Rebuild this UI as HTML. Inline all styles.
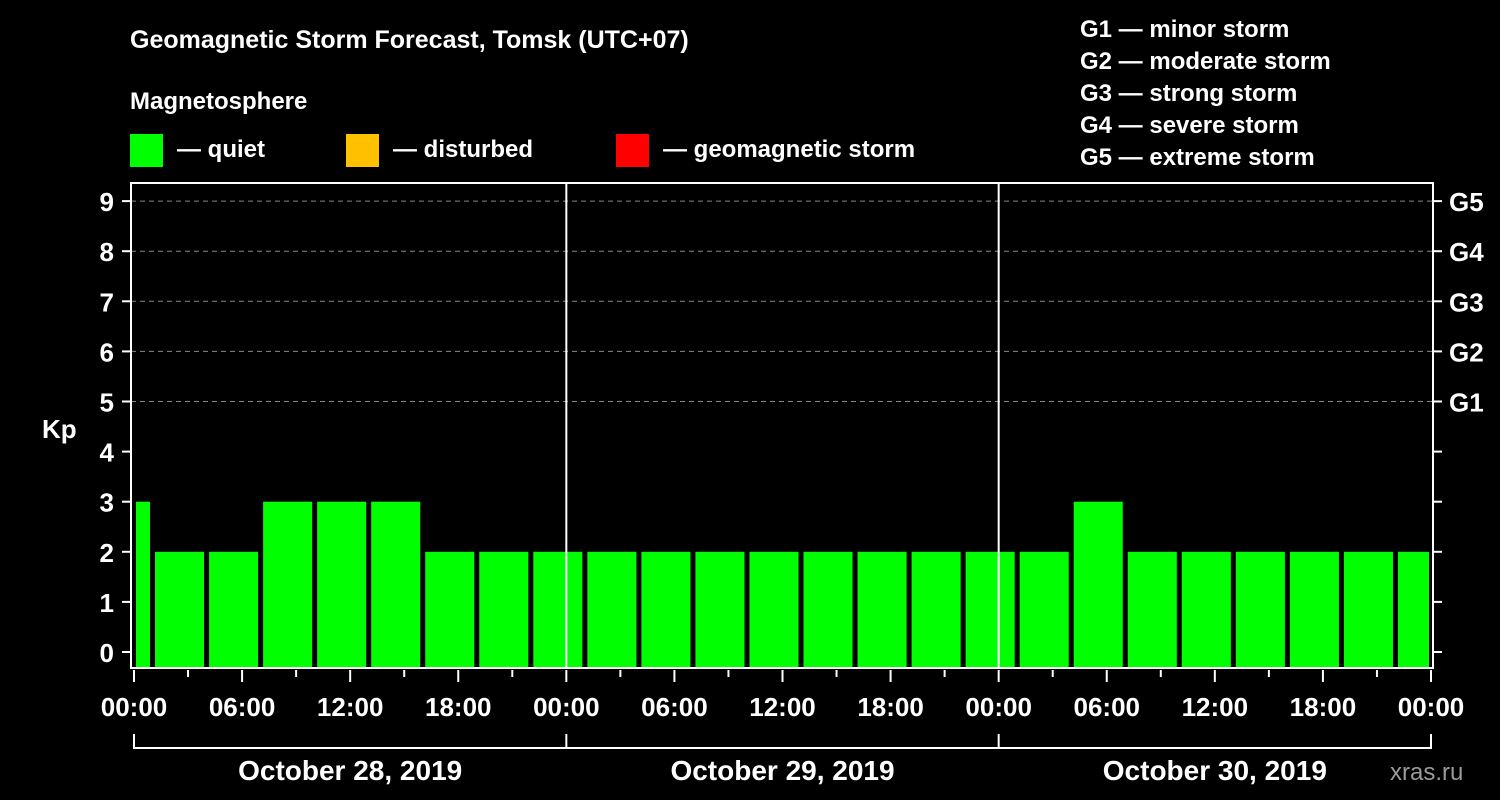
<!DOCTYPE html>
<html><head><meta charset="utf-8"><style>
html,body{margin:0;padding:0;background:#000;width:1500px;height:800px;overflow:hidden}
svg text{font-family:"Liberation Sans",Arial,sans-serif;font-weight:bold;fill:#fff}
</style></head><body>
<svg id="chart" width="1500" height="800" xmlns="http://www.w3.org/2000/svg">
<rect width="1500" height="800" fill="#000"/>
<text x="130" y="48" font-size="25">Geomagnetic Storm Forecast, Tomsk (UTC+07)</text>
<text x="130" y="109" font-size="24">Magnetosphere</text>
<g>
<rect x="130" y="134" width="33" height="33" fill="#00ff00"/>
<text x="177" y="157" font-size="24">— quiet</text>
<rect x="346" y="134" width="33" height="33" fill="#ffc000"/>
<text x="393" y="157" font-size="24">— disturbed</text>
<rect x="616" y="134" width="33" height="33" fill="#ff0000"/>
<text x="663" y="157" font-size="24">— geomagnetic storm</text>
</g>
<g font-size="24">
<text x="1080" y="37">G1 — minor storm</text>
<text x="1080" y="69">G2 — moderate storm</text>
<text x="1080" y="101">G3 — strong storm</text>
<text x="1080" y="133">G4 — severe storm</text>
<text x="1080" y="165">G5 — extreme storm</text>
</g>
<text x="42" y="438" font-size="26">Kp</text>
<text x="1390" y="780" font-size="24" fill="#aaa" style="fill:#9a9a9a;font-weight:normal">xras.ru</text>
<g id="grid"></g>
<g id="bars"></g>
<g id="axes"></g>
</svg>
<script>
const kpValues = [3, 2,2,3,3,3,2,2,2, 2,2,2,2,2,2,2,2, 2,3,2,2,2,2,2,2];
const barStartHours = [0, 1,4,7,10,13,16,19,22, 25,28,31,34,37,40,43,46, 49,52,55,58,61,64,67,70];
const yTicks = [0,1,2,3,4,5,6,7,8,9];
const gLevels = [5,6,7,8,9];
const gLabels = ["G1","G2","G3","G4","G5"];
const xTickLabels = ["00:00","06:00","12:00","18:00"];
const dayLabels = ["October 28, 2019","October 29, 2019","October 30, 2019"];
const totalHours = 72;

const NS="http://www.w3.org/2000/svg";
const L=131,R=1433,T=183,B=668;
const x=h=>134+h*(1431-134)/72;
const y=v=>652-v*50.1;
function mk(tag,attrs,parent){const e=document.createElementNS(NS,tag);for(const k in attrs)e.setAttribute(k,attrs[k]);parent.appendChild(e);return e;}
const grid=document.getElementById('grid'),bars=document.getElementById('bars'),axes=document.getElementById('axes');
gLevels.forEach((v,i)=>{
  const ln=mk('line',{x1:L,x2:R,y1:y(v),y2:y(v),stroke:'#888','stroke-dasharray':'5,4','stroke-width':1},grid);
  
  
  const tk=mk('line',{x1:R,x2:R+9,y1:y(v),y2:y(v),stroke:'#fff','stroke-width':2},axes);
  
  
  const t=mk('text',{x:1449,y:y(v)+10,'font-size':26},axes);t.textContent=gLabels[i];
  
  
});
yTicks.forEach(v=>{
  if(v<5){const tk=mk('line',{x1:R,x2:R+9,y1:y(v),y2:y(v),stroke:'#fff','stroke-width':2},axes);
  
  }
  const tk=mk('line',{x1:L-9,x2:L,y1:y(v),y2:y(v),stroke:'#fff','stroke-width':2},axes);
  
  
  const t=mk('text',{x:114,y:y(v)+10,'font-size':26,'text-anchor':'end'},axes);t.textContent=v;
  
  
});
kpValues.forEach((v,i)=>{
  const h0=barStartHours[i],h1=Math.min(h0+3,i==0?1:totalHours);
  const x0=x(h0)+(i==0?2:3),x1=x(h1)-2;
  const color=v>=5?'#ff0000':(v>=4?'#ffc000':'#00ff00');
  const r=mk('rect',{x:x0,y:y(v),width:x1-x0,height:B-y(v),fill:color},bars);
  
  
});
// frame
const fr=mk('rect',{x:L,y:T,width:R-L,height:B-T,fill:'none',stroke:'#fff','stroke-width':2},axes);


[1,2].forEach(d=>{const ln=mk('line',{x1:x(d*24),x2:x(d*24),y1:T,y2:B,stroke:'#fff','stroke-width':2},axes);

});
for(let h=0;h<=totalHours;h+=3){
  const major=h%6==0;
  const tk=mk('line',{x1:x(h),x2:x(h),y1:B+2,y2:B+(major?14:9),stroke:'#fff','stroke-width':2},axes);
  
  
  if(major){const t=mk('text',{x:x(h),y:716,'font-size':26,'text-anchor':'middle'},axes);
  t.textContent=xTickLabels[(h%24)/6];
  
  }
}
const br=mk('line',{x1:x(0),x2:x(72),y1:748,y2:748,stroke:'#fff','stroke-width':2},axes);


for(let d=0;d<=3;d++){const ln=mk('line',{x1:x(d*24),x2:x(d*24),y1:734,y2:749,stroke:'#fff','stroke-width':2},axes);

}
dayLabels.forEach((s,d)=>{const t=mk('text',{x:x(d*24+12),y:780,'font-size':28,'text-anchor':'middle'},axes);t.textContent=s;

});
</script>
</body></html>
